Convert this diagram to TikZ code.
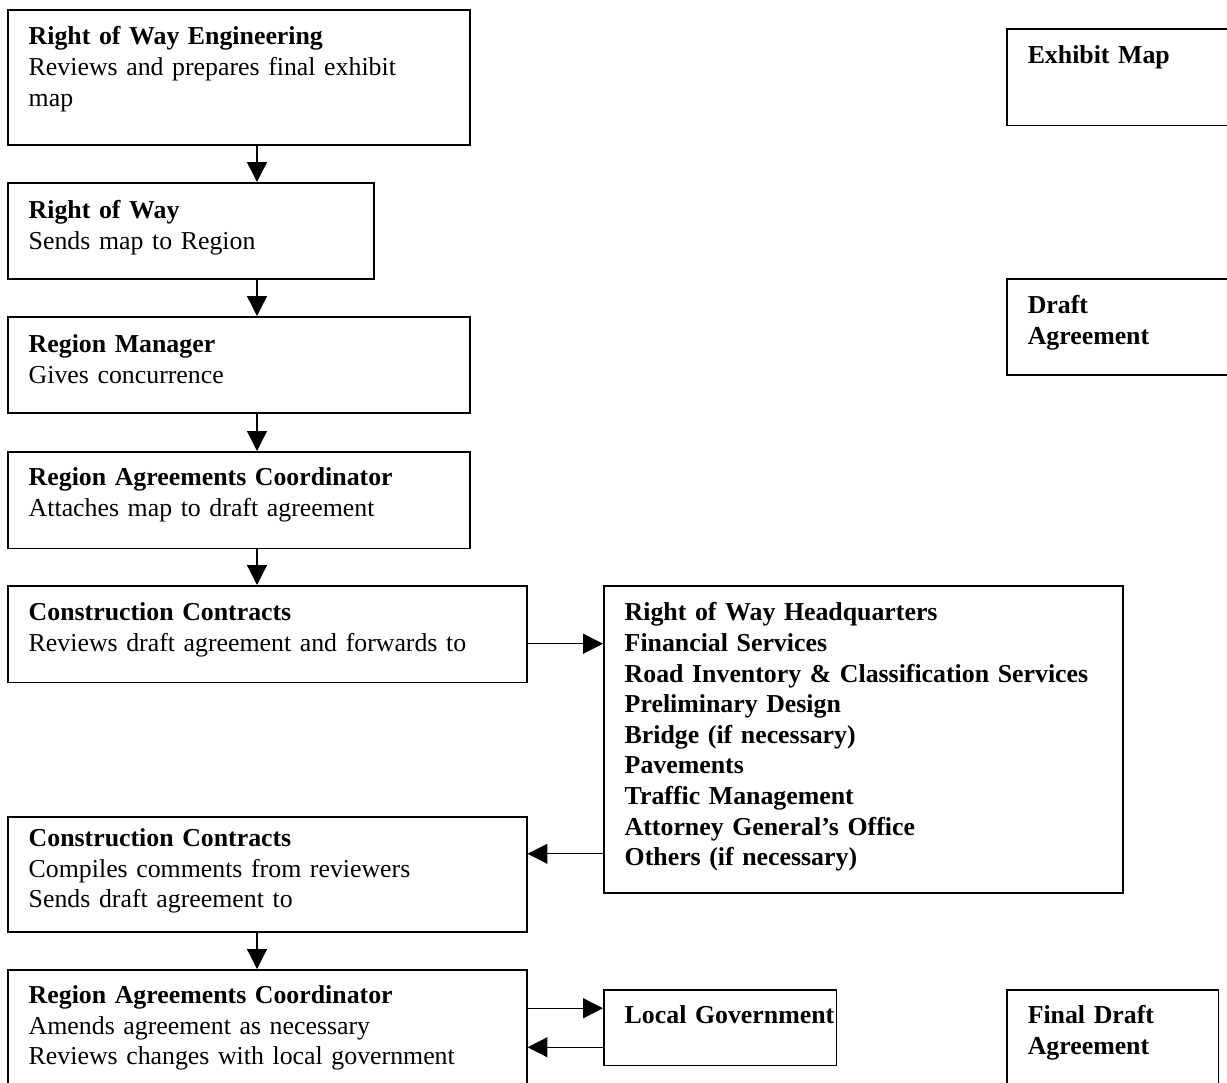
\documentclass[tikz,border=0pt]{standalone}
\usepackage{fontspec}
\setmainfont{Liberation Serif}
\usetikzlibrary{arrows.meta,calc}

\begin{document}
\begin{tikzpicture}[x=0.453pt,y=-0.453pt,
  flowbox/.style={draw,line width=0.7pt,anchor=north west,align=left,
    inner xsep=9.5pt,inner ysep=0pt,font=\fontsize{11.7}{13.86}\selectfont},
  arr/.style={-{Triangle[length=9pt,width=9pt]},line width=0.6pt}]
\useasboundingbox (0,0) rectangle (1227,1083);
% main column
\node[flowbox,text width=190.3pt,text height=15.9pt,text depth=45.3pt] (eng) at (7,9)
  {\textbf{Right of Way Engineering}\\Reviews and prepares final exhibit\\map};
\node[flowbox,text width=146.8pt,text height=16.3pt,text depth=27.2pt] (row) at (7,182)
  {\textbf{Right of Way}\\Sends map to Region};
\node[flowbox,text width=190.3pt,text height=16.3pt,text depth=27.2pt] (mgr) at (7,316)
  {\textbf{Region Manager}\\Gives concurrence};
\node[flowbox,text width=190.3pt,text height=15.4pt,text depth=28.5pt] (rac) at (7,451)
  {\textbf{Region Agreements Coordinator}\\Attaches map to draft agreement};
\node[flowbox,text width=216.1pt,text height=15.9pt,text depth=28.0pt] (cc1) at (7,585)
  {\textbf{Construction Contracts}\\Reviews draft agreement and forwards to};
\node[flowbox,text width=216.1pt,text height=13.6pt,text depth=38.5pt] (cc2) at (7,816)
  {\textbf{Construction Contracts}\\Compiles comments from reviewers\\Sends draft agreement to};
\node[flowbox,text width=216.1pt,text height=15.4pt,text depth=48.0pt] (rac2) at (7,969)
  {\textbf{Region Agreements Coordinator}\\Amends agreement as necessary\\Reviews changes with local government};
% reviewers and local government
\node[flowbox,text width=216.1pt,text height=15.9pt,text depth=123.2pt,font=\fontsize{11.7}{13.86}\selectfont\bfseries] (hq) at (603,585)
  {Right of Way Headquarters\\Financial Services\\Road Inventory \& Classification Services\\Preliminary Design\\Bridge (if necessary)\\Pavements\\Traffic Management\\Attorney General’s Office\\Others (if necessary)};
\node[flowbox,text width=86.5pt,text height=15.4pt,text depth=19.0pt] (local) at (603,989)
  {\mbox{\textbf{Local Government}}};
% documents
\node[flowbox,text width=89.7pt,text height=15.9pt,text depth=28.0pt] (exhibit) at (1006,28)
  {\textbf{Exhibit Map}};
\node[flowbox,text width=89.7pt,text height=15.9pt,text depth=27.6pt] (draft) at (1006,278)
  {\textbf{Draft}\\\textbf{Agreement}};
\node[flowbox,text width=77.0pt,text height=15.4pt,text depth=39.0pt] (final) at (1006,989)
  {\textbf{Final Draft}\\\textbf{Agreement}};
% arrows
\coordinate (spine) at (257,0);
\foreach \from/\to in {eng/row,row/mgr,mgr/rac,rac/cc1,cc2/rac2}
  {\draw[arr] (\from.south -| spine) -- (\to.north -| spine);}
\coordinate (fwd) at ($(cc1.east)+(0,9.5)$);
\draw[arr] (fwd) -- (fwd -| hq.west);
\coordinate (back) at ($(cc2.east)+(0,-20.5)$);
\draw[arr] (back -| hq.west) -- (back);
\coordinate (lgout) at ($(local.west)+(0,-19.5)$);
\draw[arr] (lgout -| rac2.east) -- (lgout);
\coordinate (lgin) at ($(local.west)+(0,19.5)$);
\draw[arr] (lgin) -- (lgin -| rac2.east);
\end{tikzpicture}
\end{document}
